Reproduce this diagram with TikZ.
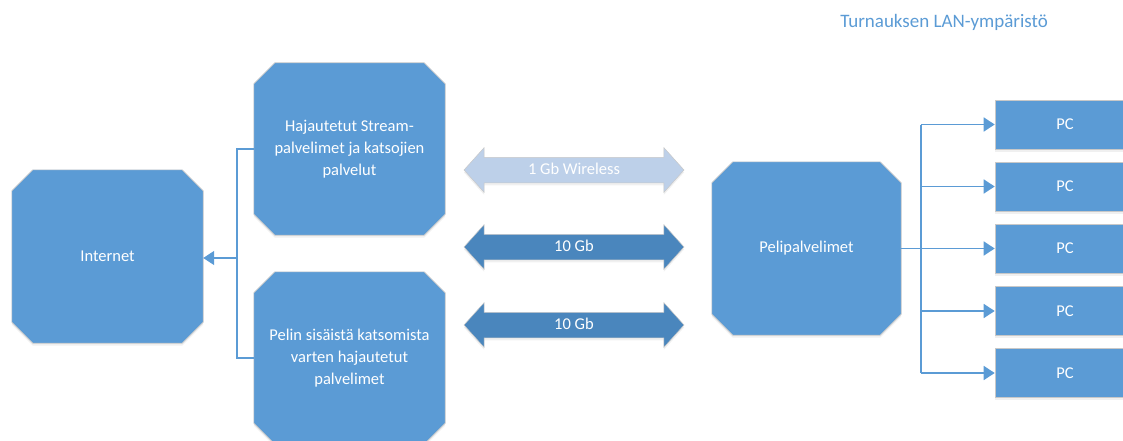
\documentclass[tikz,border=0pt]{standalone}
\usepackage{fontspec}
\setmainfont{Carlito}
\usetikzlibrary{shapes.arrows,arrows.meta,shadows}
\pgfdeclarelayer{background}
\pgfsetlayers{background,main}
\definecolor{boxblue}{RGB}{91,155,213}
\definecolor{arrblue}{RGB}{74,134,189}
\definecolor{lightarr}{RGB}{189,208,233}
\definecolor{edgegray}{RGB}{200,200,200}
\definecolor{titleblue}{RGB}{91,155,213}
\tikzset{
  boxfont/.style={font=\fontsize{16.5}{22}\selectfont},
  softshadow/.style={drop shadow={opacity=0.12, shadow xshift=0pt, shadow yshift=-2.5pt}},
  octbox/.style={rectangle, text=white, inner sep=0pt, align=center, boxfont},
  octfill/.style={fill=boxblue, draw=edgegray, line width=0.6pt, softshadow},
  pcbox/.style={rectangle, fill=boxblue, draw=edgegray, line width=0.6pt,
    minimum width=140pt, minimum height=49pt, inner sep=0pt, text=white, boxfont, softshadow},
  link/.style={double arrow, double arrow head extend=9.5pt, double arrow head indent=0pt,
    double arrow tip angle=96, minimum height=220pt, text height=11pt, text depth=3pt,
    inner xsep=0pt, inner ysep=5.5pt, text=white, boxfont, softshadow},
  conn/.style={draw=boxblue, line width=1.5pt},
  tipped/.style={-{Triangle[length=11pt,width=14pt]}}
}
\newcommand\octoutline[1]{%
  \begin{pgfonlayer}{background}
  \path[octfill] ([xshift=21pt]#1.north west) -- ([xshift=-21pt]#1.north east)
    -- ([yshift=-21pt]#1.north east) -- ([yshift=21pt]#1.south east)
    -- ([xshift=-21pt]#1.south east) -- ([xshift=21pt]#1.south west)
    -- ([yshift=21pt]#1.south west) -- ([yshift=-21pt]#1.north west) -- cycle;
  \end{pgfonlayer}}
\begin{document}
\begin{tikzpicture}[x=1pt,y=-1pt]
\useasboundingbox (0,0) rectangle (1123,441);

\node[font=\fontsize{19}{22}\selectfont, text=titleblue] (title) at (944,22) {Turnauksen LAN-ympäristö};

\node[octbox, minimum width=191pt, minimum height=173pt] (inet) at (107.5,256.5) {Internet};
\node[octbox, minimum width=191pt, minimum height=172pt] (haj) at (349.5,149) {Hajautetut Stream-\\palvelimet ja katsojien\\palvelut};
\node[octbox, minimum width=191pt, minimum height=172pt] (pel) at (349.5,358) {Pelin sisäistä katsomista\\varten hajautetut\\palvelimet};
\node[octbox, minimum width=189pt, minimum height=173pt] (peli) at (806.5,248.5) {Pelipalvelimet};
\octoutline{inet}
\octoutline{haj}
\octoutline{pel}
\octoutline{peli}

\node[link, fill=lightarr, draw=edgegray, line width=0.5pt] (wl) at (574,170) {1 Gb Wireless};
\node[link, fill=arrblue, draw=edgegray, line width=0.5pt] (g1) at (574,247) {10 Gb};
\node[link, fill=arrblue, draw=edgegray, line width=0.5pt] (g2) at (574,325) {10 Gb};

\node[pcbox] (pc1) at (1065,124.5) {PC};
\node[pcbox] (pc2) at (1065,186.5) {PC};
\node[pcbox] (pc3) at (1065,248.5) {PC};
\node[pcbox] (pc4) at (1065,311) {PC};
\node[pcbox] (pc5) at (1065,373) {PC};

% left connectors
\coordinate (lj) at (237,258);
\draw[conn] (haj.west) -| (lj) |- (pel.west);
\draw[conn,tipped] (lj) -- (lj -| inet.east);

% right connectors
\coordinate (bus) at (921,0);
\draw[conn] (pc1.west -| bus) -- (pc5.west -| bus);
\draw[conn] (peli.east) -- (peli.east -| bus);
\foreach \i in {1,...,5}{
  \draw[conn,tipped] (pc\i.west -| bus) -- (pc\i.west);
}
\end{tikzpicture}
\end{document}
